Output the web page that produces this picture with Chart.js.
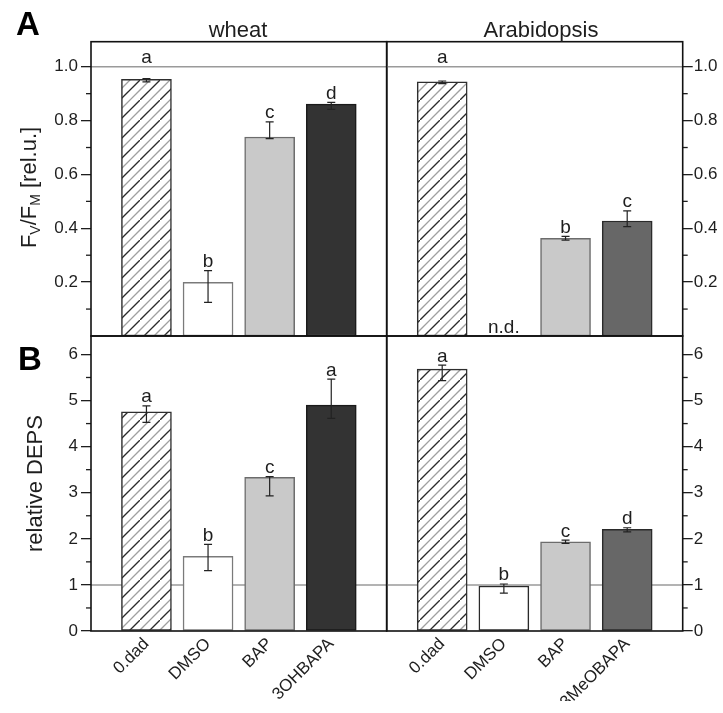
<!DOCTYPE html>
<html>
<head>
<meta charset="utf-8">
<script src="https://cdn.jsdelivr.net/npm/chart.js@4.4.1/dist/chart.umd.min.js"></script>
<style>
  html, body { margin: 0; padding: 0; background: #fff; }
  #wrap { position: relative; width: 723px; height: 713px; }
  #wrap canvas { position: absolute; left: 0; top: 0; }
</style>
</head>
<body>
<div id="wrap">
  <canvas id="wheatFvCanvas" width="723" height="713"></canvas>
  <canvas id="arabFvCanvas" width="723" height="713"></canvas>
  <canvas id="wheatDepsCanvas" width="723" height="713"></canvas>
  <canvas id="arabDepsCanvas" width="723" height="713"></canvas>
</div>
<script>
// Treatments along the x axis
const wheatTreatments = ['0.dad', 'DMSO', 'BAP', '3OHBAPA'];
const arabTreatments = ['0.dad', 'DMSO', 'BAP', '3MeOBAPA'];

// Panel A: Fv/Fm (null = not detected)
const wheatFv = [0.953, 0.199, 0.739, 0.861];
const wheatFvHigh = [0.956, 0.243, 0.795, 0.868];
const wheatFvLow = [0.944, 0.125, 0.733, 0.842];
const wheatFvLetters = ['a', 'b', 'c', 'd'];

const arabFv = [0.944, null, 0.363, 0.427];
const arabFvHigh = [0.947, null, 0.370, 0.465];
const arabFvLow = [0.937, null, 0.356, 0.406];
const arabFvLetters = ['a', 'n.d.', 'b', 'c'];

// Panel B: relative DEPS
const wheatDeps = [4.756, 1.62, 3.333, 4.901];
const wheatDepsHigh = [4.886, 1.88, 3.35, 5.465];
const wheatDepsLow = [4.526, 1.31, 2.93, 4.613];
const wheatDepsLetters = ['a', 'b', 'c', 'a'];

const arabDeps = [5.68, 0.976, 1.937, 2.205];
const arabDepsHigh = [5.77, 1.02, 1.97, 2.24];
const arabDepsLow = [5.43, 0.82, 1.90, 2.15];
const arabDepsLetters = ['a', 'b', 'c', 'd'];

// Axis ticks
const fvTicks = [0.2, 0.4, 0.6, 0.8, 1.0];
const fvMinorTicks = [0.1, 0.3, 0.5, 0.7, 0.9];
const depsTicks = [0, 1, 2, 3, 4, 5, 6];
const depsMinorTicks = [0.5, 1.5, 2.5, 3.5, 4.5, 5.5];

const FONT = '"Liberation Sans", Arial, Helvetica, sans-serif';
const INK = '#1e1e1e';

function makeHatch() {
  const s = 20;
  const c = document.createElement('canvas');
  c.width = s; c.height = s;
  const g = c.getContext('2d');
  g.fillStyle = '#ffffff';
  g.fillRect(0, 0, s, s);
  g.lineWidth = 1.3;
  g.strokeStyle = '#2b2b2b';
  g.beginPath(); g.moveTo(-2, s + 2); g.lineTo(s + 2, -2); g.stroke();
  g.strokeStyle = '#a0a0a0';
  g.beginPath();
  g.moveTo(-2, s / 2 + 2); g.lineTo(s / 2 + 2, -2);
  g.moveTo(s / 2 - 2, s + 2); g.lineTo(s + 2, s / 2 - 2);
  g.stroke();
  return g.createPattern(c, 'repeat');
}
const hatch = makeHatch();

const wheatFills = [hatch, '#ffffff', '#c9c9c9', '#333333'];
const wheatBorders = ['#2e2e2e', '#7a7a7a', '#6c6c6c', '#1a1a1a'];
const arabFills = [hatch, '#ffffff', '#c9c9c9', '#676767'];
const arabBorders = ['#2e2e2e', '#2a2a2a', '#6c6c6c', '#2a2a2a'];

function drawRotated(ctx, x, yCenter, parts) {
  // parts: [{text, size, dy}] drawn bottom-to-top, centred on yCenter
  let total = 0;
  parts.forEach(p => { ctx.font = p.size + 'px ' + FONT; p.w = ctx.measureText(p.text).width; total += p.w; });
  ctx.save();
  ctx.translate(x, yCenter + total / 2);
  ctx.rotate(-Math.PI / 2);
  ctx.fillStyle = INK;
  ctx.textAlign = 'left';
  ctx.textBaseline = 'alphabetic';
  let pos = 0;
  parts.forEach(p => {
    ctx.font = p.size + 'px ' + FONT;
    ctx.fillText(p.text, pos, p.dy || 0);
    pos += p.w;
  });
  ctx.restore();
}

function makeDecor(cfg) {
  return {
    id: 'panelDecor',
    beforeDatasetsDraw(chart) {
      const { ctx, chartArea: a } = chart;
      const y = chart.scales.y.getPixelForValue(cfg.ref);
      ctx.save();
      ctx.strokeStyle = '#9a9a9a';
      ctx.lineWidth = 1.5;
      ctx.beginPath(); ctx.moveTo(a.left, y); ctx.lineTo(a.right, y); ctx.stroke();
      ctx.restore();
    },
    afterDatasetsDraw(chart) {
      const { ctx, chartArea: a } = chart;
      const xs = chart.scales.x, ys = chart.scales.y;
      ctx.save();
      // error bars
      ctx.strokeStyle = '#222';
      ctx.lineWidth = 1.2;
      cfg.values.forEach((v, i) => {
        if (v == null) return;
        const x = xs.getPixelForValue(i);
        const yh = ys.getPixelForValue(cfg.high[i]);
        const yl = ys.getPixelForValue(cfg.low[i]);
        ctx.beginPath();
        ctx.moveTo(x, yh); ctx.lineTo(x, yl);
        ctx.moveTo(x - 4, yh); ctx.lineTo(x + 4, yh);
        ctx.moveTo(x - 4, yl); ctx.lineTo(x + 4, yl);
        ctx.stroke();
      });
      // significance letters: above the error bar, lifted over the reference line if they would cross it
      ctx.fillStyle = INK;
      ctx.font = '19px ' + FONT;
      ctx.textAlign = 'center';
      ctx.textBaseline = 'alphabetic';
      const refPx = ys.getPixelForValue(cfg.ref);
      cfg.letters.forEach((t, i) => {
        const x = xs.getPixelForValue(i);
        let y;
        if (cfg.values[i] == null) {
          y = ys.getPixelForValue(0) - 3;
        } else {
          y = ys.getPixelForValue(cfg.high[i]) - 3.5;
          if (refPx > y - 15 && refPx < y + 3) y = refPx - 3.5;
        }
        ctx.fillText(t, x, y);
      });
      // minor ticks
      ctx.strokeStyle = INK;
      ctx.lineWidth = 1.3;
      cfg.minor.forEach(v => {
        const y = ys.getPixelForValue(v);
        ctx.beginPath();
        if (cfg.side === 'left') { ctx.moveTo(a.left - 5, y); ctx.lineTo(a.left, y); }
        else { ctx.moveTo(a.right, y); ctx.lineTo(a.right + 5, y); }
        ctx.stroke();
      });
      // frame
      ctx.strokeStyle = '#111';
      ctx.lineWidth = 1.6;
      ctx.strokeRect(a.left, a.top, a.right - a.left, a.bottom - a.top);
      ctx.restore();
    },
    afterDraw(chart) {
      const { ctx } = chart;
      ctx.save();
      ctx.fillStyle = INK;
      if (cfg.title) {
        ctx.font = '22px ' + FONT;
        ctx.textAlign = 'center';
        ctx.textBaseline = 'alphabetic';
        ctx.fillText(cfg.title, cfg.titleX, 37);
      }
      if (cfg.panel) {
        ctx.fillStyle = '#000';
        ctx.font = 'bold 33px ' + FONT;
        ctx.textAlign = 'left';
        ctx.textBaseline = 'alphabetic';
        ctx.fillText(cfg.panel, cfg.panelPos[0], cfg.panelPos[1]);
      }
      ctx.restore();
      if (cfg.yTitle) cfg.yTitle(ctx);
    }
  };
}

function buildChart(id, opts) {
  const data = opts.treatments.map((t, i) => ({ x: i, y: opts.values[i] }));
  const bottom = opts.showLabels;
  return new Chart(document.getElementById(id), {
    type: 'bar',
    data: {
      datasets: [{
        data: data,
        backgroundColor: opts.fills,
        borderColor: opts.borders,
        borderWidth: 1.5,
        borderSkipped: false,
        barThickness: 50
      }]
    },
    options: {
      responsive: false,
      animation: false,
      devicePixelRatio: 1,
      layout: { padding: opts.padding },
      plugins: { legend: { display: false }, tooltip: { enabled: false }, title: { display: false } },
      scales: {
        x: {
          type: 'linear',
          min: -0.9,
          max: 3.9,
          offset: false,
          display: bottom,
          afterBuildTicks: s => { s.ticks = opts.treatments.map((t, i) => ({ value: i })); },
          afterFit: s => { if (bottom) s.height = 70; },
          grid: { drawOnChartArea: false, drawTicks: false },
          border: { display: false },
          ticks: {
            autoSkip: false,
            minRotation: 45,
            maxRotation: 45,
            padding: 3,
            color: INK,
            font: { family: FONT, size: 17 },
            callback: v => opts.treatments[v]
          }
        },
        y: {
          position: opts.side,
          min: 0,
          max: opts.max,
          afterBuildTicks: s => { s.ticks = opts.ticks.map(v => ({ value: v })); },
          afterFit: s => { s.width = opts.side === 'left' ? 60 : 35; },
          grid: { drawOnChartArea: false, drawTicks: true, tickLength: 10, color: INK, lineWidth: 1.3 },
          border: { display: false },
          ticks: {
            padding: opts.side === 'left' ? 3 : 1,
            color: INK,
            font: { family: FONT, size: 17 },
            callback: opts.tickFormat
          }
        }
      }
    },
    plugins: [makeDecor({
      values: opts.values, high: opts.high, low: opts.low, letters: opts.letters,
      ref: opts.ref, minor: opts.minor, side: opts.side,
      title: opts.title, titleX: opts.titleX,
      panel: opts.panel, panelPos: opts.panelPos, yTitle: opts.yTitle
    })]
  });
}

const fvFormat = v => Number(v).toFixed(1);
const depsFormat = v => String(v);

buildChart('wheatFvCanvas', {
  treatments: wheatTreatments, values: wheatFv, high: wheatFvHigh, low: wheatFvLow, letters: wheatFvLetters,
  fills: wheatFills, borders: wheatBorders, side: 'left', max: 1.093, ticks: fvTicks, minor: fvMinorTicks,
  ref: 1.0, tickFormat: fvFormat, showLabels: false,
  padding: { left: 31, right: 336.3, top: 41.7, bottom: 377 },
  title: 'wheat', titleX: 238, panel: 'A', panelPos: [16, 35],
  yTitle: ctx => drawRotated(ctx, 36, 187.5, [
    { text: 'F', size: 22 }, { text: 'V', size: 14, dy: 4 },
    { text: '/F', size: 22 }, { text: 'M', size: 14, dy: 4 },
    { text: ' [rel.u.]', size: 22 }
  ])
});

buildChart('arabFvCanvas', {
  treatments: arabTreatments, values: arabFv, high: arabFvHigh, low: arabFvLow, letters: arabFvLetters,
  fills: arabFills, borders: arabBorders, side: 'right', max: 1.093, ticks: fvTicks, minor: fvMinorTicks,
  ref: 1.0, tickFormat: fvFormat, showLabels: false,
  padding: { left: 386.7, right: 5.3, top: 41.7, bottom: 377 },
  title: 'Arabidopsis', titleX: 541
});

buildChart('wheatDepsCanvas', {
  treatments: wheatTreatments, values: wheatDeps, high: wheatDepsHigh, low: wheatDepsLow, letters: wheatDepsLetters,
  fills: wheatFills, borders: wheatBorders, side: 'left', max: 6.4, ticks: depsTicks, minor: depsMinorTicks,
  ref: 1, tickFormat: depsFormat, showLabels: true,
  padding: { left: 31, right: 336.3, top: 336, bottom: 12 },
  panel: 'B', panelPos: [18, 370],
  yTitle: ctx => drawRotated(ctx, 41.5, 483.5, [{ text: 'relative DEPS', size: 22 }])
});

buildChart('arabDepsCanvas', {
  treatments: arabTreatments, values: arabDeps, high: arabDepsHigh, low: arabDepsLow, letters: arabDepsLetters,
  fills: arabFills, borders: arabBorders, side: 'right', max: 6.4, ticks: depsTicks, minor: depsMinorTicks,
  ref: 1, tickFormat: depsFormat, showLabels: true,
  padding: { left: 386.7, right: 5.3, top: 336, bottom: 12 }
});
</script>
</body>
</html>
